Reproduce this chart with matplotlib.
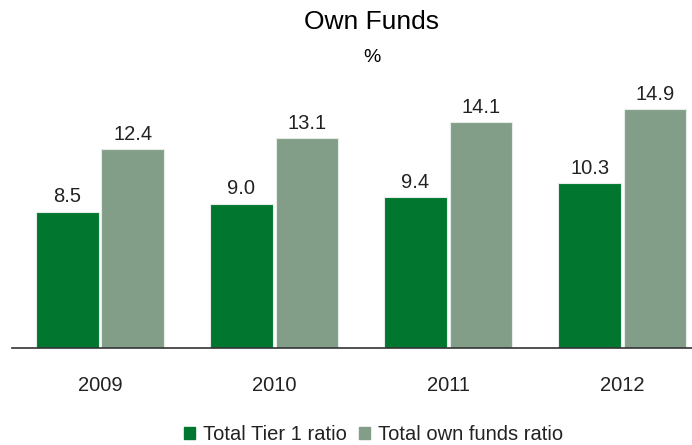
import matplotlib
matplotlib.use("Agg")
import numpy as np
from matplotlib import pyplot as plt
from matplotlib.patches import Patch

plt.rcParams['font.family'] = ['Liberation Sans', 'DejaVu Sans']

years = ["2009", "2010", "2011", "2012"]
tier1 = [8.5, 9.0, 9.4, 10.3]
own_funds = [12.4, 13.1, 14.1, 14.9]
series_names = ["Total Tier 1 ratio", "Total own funds ratio"]

dark_green = "#00762F"
grey_green = "#829E88"

fig = plt.figure(figsize=(6.92, 4.45), dpi=100)
ax = fig.add_axes([12 / 692, 97 / 445, 680 / 692, 253 / 445])

x = np.arange(len(years))
w = 0.36
b1 = ax.bar(x - w / 2 - 0.008, tier1, w, color=dark_green, edgecolor="#e6ece7", linewidth=0.8)
b2 = ax.bar(x + w / 2 + 0.008, own_funds, w, color=grey_green, edgecolor="#e6ece7", linewidth=0.8)

# value labels above each bar
for bars, vals in ((b1, tier1), (b2, own_funds)):
    for rect, v in zip(bars, vals):
        ax.annotate("%.1f" % v, (rect.get_x() + rect.get_width() / 2, v),
                    xytext=(0, 4), textcoords="offset points",
                    ha="center", va="bottom", fontsize=14.5, color="#222222")

ax.set_xlim(-0.506, 3.40)
ax.set_ylim(0, 15.8)
ax.set_xticks(x)
ax.set_xticklabels(years, fontsize=14.5, color="#222222")
ax.tick_params(axis="x", length=0, pad=20)
ax.set_yticks([])
for s in ("top", "right", "left"):
    ax.spines[s].set_visible(False)
ax.spines["bottom"].set_color("#333333")
ax.spines["bottom"].set_linewidth(1.2)

fig.text(0.537, 1 - 22 / 445, "Own Funds", ha="center", va="center", fontsize=19)
fig.text(0.537, 1 - 58 / 445, "%", ha="center", va="center", fontsize=14)

handles = [Patch(color=dark_green), Patch(color=grey_green)]
fig.legend(handles, series_names, loc="center", bbox_to_anchor=(0.540, 1 - 435 / 445),
           ncol=2, frameon=False, fontsize=14.5, handlelength=0.55, handleheight=0.55,
           handletextpad=0.4, columnspacing=0.6, labelcolor="#222222")

fig.savefig("out.png", dpi=100)
